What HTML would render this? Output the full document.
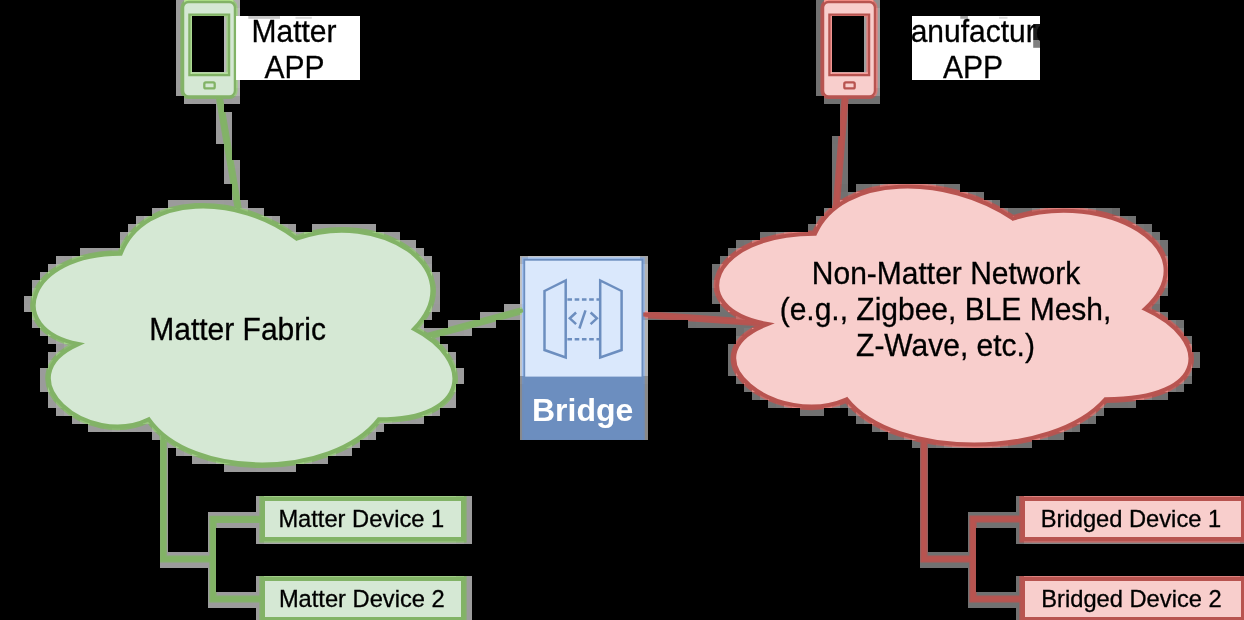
<!DOCTYPE html>
<html>
<head>
<meta charset="utf-8">
<title>Matter Bridge</title>
<style>
html,body{margin:0;padding:0;background:#000;}
body{width:1244px;height:620px;overflow:hidden;position:relative;font-family:"Liberation Sans",sans-serif;}
svg{position:absolute;left:0;top:0;display:block;will-change:transform;}
text{font-family:"Liberation Sans",sans-serif;fill:#000;stroke:#000;stroke-width:0.3px;}
</style>
</head>
<body>
<svg width="1244" height="620" viewBox="0 0 1244 620">
<rect x="0" y="0" width="1244" height="620" fill="#000"/>
<g id="art"><rect x="176" y="0" width="8" height="8" fill="#9c9c9c"/><rect x="184" y="0" width="8" height="8" fill="#c5c5c5"/><rect x="232" y="0" width="8" height="8" fill="#afafaf"/><rect x="816" y="0" width="8" height="8" fill="#717171"/><rect x="824" y="0" width="8" height="8" fill="#b0b0b0"/><rect x="872" y="0" width="8" height="8" fill="#8f8f8f"/><rect x="176" y="8" width="8" height="8" fill="#9c9c9c"/><rect x="184" y="8" width="8" height="8" fill="#d4d4d4"/><rect x="192" y="8" width="32" height="8" fill="#cccccc"/><rect x="224" y="8" width="8" height="8" fill="#d0d0d0"/><rect x="232" y="8" width="8" height="8" fill="#b9b9b9"/><rect x="816" y="8" width="8" height="8" fill="#717171"/><rect x="824" y="8" width="8" height="8" fill="#c8c8c8"/><rect x="832" y="8" width="32" height="8" fill="#bcbcbc"/><rect x="864" y="8" width="8" height="8" fill="#c2c2c2"/><rect x="872" y="8" width="8" height="8" fill="#9f9f9f"/><rect x="176" y="16" width="8" height="8" fill="#9c9c9c"/><rect x="184" y="16" width="8" height="8" fill="#c5c5c5"/><rect x="224" y="16" width="8" height="8" fill="#b9b9b9"/><rect x="816" y="16" width="8" height="8" fill="#717171"/><rect x="824" y="16" width="8" height="8" fill="#b1b1b1"/><rect x="864" y="16" width="16" height="8" fill="#9f9f9f"/><rect x="176" y="24" width="8" height="8" fill="#9c9c9c"/><rect x="184" y="24" width="8" height="8" fill="#c5c5c5"/><rect x="224" y="24" width="8" height="8" fill="#b9b9b9"/><rect x="816" y="24" width="8" height="8" fill="#717171"/><rect x="824" y="24" width="8" height="8" fill="#b1b1b1"/><rect x="864" y="24" width="16" height="8" fill="#9f9f9f"/><rect x="176" y="32" width="8" height="8" fill="#9c9c9c"/><rect x="184" y="32" width="8" height="8" fill="#c5c5c5"/><rect x="224" y="32" width="8" height="8" fill="#b9b9b9"/><rect x="816" y="32" width="8" height="8" fill="#717171"/><rect x="824" y="32" width="8" height="8" fill="#b1b1b1"/><rect x="864" y="32" width="16" height="8" fill="#9f9f9f"/><rect x="176" y="40" width="8" height="8" fill="#9c9c9c"/><rect x="184" y="40" width="8" height="8" fill="#c5c5c5"/><rect x="224" y="40" width="8" height="8" fill="#b9b9b9"/><rect x="816" y="40" width="8" height="8" fill="#717171"/><rect x="824" y="40" width="8" height="8" fill="#b1b1b1"/><rect x="864" y="40" width="16" height="8" fill="#9f9f9f"/><rect x="176" y="48" width="8" height="8" fill="#9c9c9c"/><rect x="184" y="48" width="8" height="8" fill="#c5c5c5"/><rect x="224" y="48" width="8" height="8" fill="#b9b9b9"/><rect x="816" y="48" width="8" height="8" fill="#717171"/><rect x="824" y="48" width="8" height="8" fill="#b1b1b1"/><rect x="864" y="48" width="16" height="8" fill="#9f9f9f"/><rect x="176" y="56" width="8" height="8" fill="#9c9c9c"/><rect x="184" y="56" width="8" height="8" fill="#c5c5c5"/><rect x="224" y="56" width="8" height="8" fill="#b9b9b9"/><rect x="816" y="56" width="8" height="8" fill="#717171"/><rect x="824" y="56" width="8" height="8" fill="#b1b1b1"/><rect x="864" y="56" width="16" height="8" fill="#9f9f9f"/><rect x="176" y="64" width="8" height="8" fill="#9c9c9c"/><rect x="184" y="64" width="8" height="8" fill="#c5c5c5"/><rect x="224" y="64" width="8" height="8" fill="#b9b9b9"/><rect x="816" y="64" width="8" height="8" fill="#717171"/><rect x="824" y="64" width="8" height="8" fill="#b1b1b1"/><rect x="864" y="64" width="16" height="8" fill="#9f9f9f"/><rect x="176" y="72" width="8" height="8" fill="#9c9c9c"/><rect x="184" y="72" width="8" height="8" fill="#cfcfcf"/><rect x="192" y="72" width="32" height="8" fill="#c6c6c6"/><rect x="224" y="72" width="8" height="8" fill="#c9c9c9"/><rect x="816" y="72" width="8" height="8" fill="#717171"/><rect x="824" y="72" width="8" height="8" fill="#c0c0c0"/><rect x="832" y="72" width="32" height="8" fill="#b3b3b3"/><rect x="864" y="72" width="8" height="8" fill="#b7b7b7"/><rect x="872" y="72" width="8" height="8" fill="#9f9f9f"/><rect x="176" y="80" width="8" height="8" fill="#9c9c9c"/><rect x="232" y="80" width="8" height="8" fill="#b9b9b9"/><rect x="816" y="80" width="8" height="8" fill="#717171"/><rect x="872" y="80" width="8" height="8" fill="#9f9f9f"/><rect x="176" y="88" width="8" height="8" fill="#9b9b9b"/><rect x="184" y="88" width="8" height="8" fill="#d3d3d3"/><rect x="232" y="88" width="8" height="8" fill="#b2b2b2"/><rect x="816" y="88" width="8" height="8" fill="#717171"/><rect x="824" y="88" width="8" height="8" fill="#c7c7c7"/><rect x="872" y="88" width="8" height="8" fill="#949494"/><rect x="184" y="96" width="8" height="8" fill="#9c9c9c"/><rect x="192" y="96" width="40" height="8" fill="#9b9b9b"/><rect x="232" y="96" width="8" height="8" fill="#9c9c9c"/><rect x="824" y="96" width="56" height="8" fill="#717171"/><rect x="216" y="104" width="8" height="8" fill="#9c9c9c"/><rect x="840" y="104" width="8" height="8" fill="#717171"/><rect x="216" y="112" width="8" height="8" fill="#9b9b9b"/><rect x="224" y="112" width="8" height="8" fill="#9c9c9c"/><rect x="840" y="112" width="8" height="8" fill="#717171"/><rect x="216" y="120" width="16" height="8" fill="#9b9b9b"/><rect x="840" y="120" width="8" height="8" fill="#717171"/><rect x="216" y="128" width="16" height="8" fill="#9b9b9b"/><rect x="840" y="128" width="8" height="8" fill="#717171"/><rect x="216" y="136" width="16" height="8" fill="#9b9b9b"/><rect x="832" y="136" width="8" height="8" fill="#707070"/><rect x="840" y="136" width="8" height="8" fill="#717171"/><rect x="224" y="144" width="8" height="8" fill="#9b9b9b"/><rect x="832" y="144" width="16" height="8" fill="#717171"/><rect x="224" y="152" width="8" height="8" fill="#9b9b9b"/><rect x="832" y="152" width="16" height="8" fill="#717171"/><rect x="224" y="160" width="16" height="8" fill="#9c9c9c"/><rect x="832" y="160" width="16" height="8" fill="#717171"/><rect x="224" y="168" width="16" height="8" fill="#9b9b9b"/><rect x="832" y="168" width="16" height="8" fill="#717171"/><rect x="224" y="176" width="16" height="8" fill="#9b9b9b"/><rect x="832" y="176" width="16" height="8" fill="#717171"/><rect x="232" y="184" width="8" height="8" fill="#9b9b9b"/><rect x="832" y="184" width="8" height="8" fill="#717171"/><rect x="840" y="184" width="8" height="8" fill="#6e6e6e"/><rect x="856" y="184" width="8" height="8" fill="#707070"/><rect x="864" y="184" width="8" height="8" fill="#717171"/><rect x="872" y="184" width="8" height="8" fill="#797979"/><rect x="880" y="184" width="8" height="8" fill="#929292"/><rect x="888" y="184" width="8" height="8" fill="#9b9b9b"/><rect x="896" y="184" width="8" height="8" fill="#a0a0a0"/><rect x="904" y="184" width="8" height="8" fill="#a2a2a2"/><rect x="912" y="184" width="8" height="8" fill="#a0a0a0"/><rect x="920" y="184" width="8" height="8" fill="#9a9a9a"/><rect x="928" y="184" width="8" height="8" fill="#919191"/><rect x="936" y="184" width="8" height="8" fill="#7c7c7c"/><rect x="944" y="184" width="16" height="8" fill="#717171"/><rect x="232" y="192" width="8" height="8" fill="#9b9b9b"/><rect x="832" y="192" width="16" height="8" fill="#717171"/><rect x="848" y="192" width="8" height="8" fill="#7b7b7b"/><rect x="856" y="192" width="8" height="8" fill="#a1a1a1"/><rect x="960" y="192" width="8" height="8" fill="#979797"/><rect x="968" y="192" width="8" height="8" fill="#787878"/><rect x="976" y="192" width="8" height="8" fill="#717171"/><rect x="168" y="200" width="16" height="8" fill="#9b9b9b"/><rect x="184" y="200" width="40" height="8" fill="#9c9c9c"/><rect x="224" y="200" width="24" height="8" fill="#9b9b9b"/><rect x="832" y="200" width="8" height="8" fill="#747474"/><rect x="840" y="200" width="8" height="8" fill="#a5a5a5"/><rect x="976" y="200" width="8" height="8" fill="#aeaeae"/><rect x="984" y="200" width="8" height="8" fill="#888888"/><rect x="992" y="200" width="8" height="8" fill="#717171"/><rect x="152" y="208" width="8" height="8" fill="#9b9b9b"/><rect x="160" y="208" width="8" height="8" fill="#a8a8a8"/><rect x="168" y="208" width="8" height="8" fill="#bbbbbb"/><rect x="232" y="208" width="8" height="8" fill="#b9b9b9"/><rect x="240" y="208" width="8" height="8" fill="#acacac"/><rect x="248" y="208" width="8" height="8" fill="#9c9c9c"/><rect x="256" y="208" width="8" height="8" fill="#9b9b9b"/><rect x="824" y="208" width="8" height="8" fill="#7d7d7d"/><rect x="992" y="208" width="8" height="8" fill="#b4b4b4"/><rect x="1000" y="208" width="8" height="8" fill="#848484"/><rect x="1008" y="208" width="24" height="8" fill="#717171"/><rect x="1032" y="208" width="8" height="8" fill="#838383"/><rect x="1040" y="208" width="8" height="8" fill="#949494"/><rect x="1048" y="208" width="8" height="8" fill="#9c9c9c"/><rect x="1056" y="208" width="16" height="8" fill="#9f9f9f"/><rect x="1072" y="208" width="8" height="8" fill="#9c9c9c"/><rect x="1080" y="208" width="8" height="8" fill="#939393"/><rect x="1088" y="208" width="8" height="8" fill="#828282"/><rect x="1096" y="208" width="16" height="8" fill="#717171"/><rect x="1112" y="208" width="8" height="8" fill="#6b6b6b"/><rect x="136" y="216" width="8" height="8" fill="#9b9b9b"/><rect x="144" y="216" width="8" height="8" fill="#aaaaaa"/><rect x="152" y="216" width="8" height="8" fill="#c8c8c8"/><rect x="256" y="216" width="8" height="8" fill="#bebebe"/><rect x="264" y="216" width="8" height="8" fill="#a5a5a5"/><rect x="272" y="216" width="8" height="8" fill="#9b9b9b"/><rect x="816" y="216" width="8" height="8" fill="#767676"/><rect x="1008" y="216" width="8" height="8" fill="#a9a9a9"/><rect x="1112" y="216" width="8" height="8" fill="#989898"/><rect x="1120" y="216" width="8" height="8" fill="#757575"/><rect x="1128" y="216" width="8" height="8" fill="#717171"/><rect x="128" y="224" width="8" height="8" fill="#9b9b9b"/><rect x="136" y="224" width="8" height="8" fill="#b7b7b7"/><rect x="272" y="224" width="8" height="8" fill="#c1c1c1"/><rect x="280" y="224" width="8" height="8" fill="#a2a2a2"/><rect x="288" y="224" width="8" height="8" fill="#9b9b9b"/><rect x="312" y="224" width="24" height="8" fill="#9b9b9b"/><rect x="336" y="224" width="16" height="8" fill="#9c9c9c"/><rect x="352" y="224" width="24" height="8" fill="#9b9b9b"/><rect x="808" y="224" width="8" height="8" fill="#717171"/><rect x="816" y="224" width="8" height="8" fill="#a5a5a5"/><rect x="1128" y="224" width="8" height="8" fill="#a0a0a0"/><rect x="1136" y="224" width="8" height="8" fill="#757575"/><rect x="1144" y="224" width="8" height="8" fill="#717171"/><rect x="120" y="232" width="8" height="8" fill="#9b9b9b"/><rect x="128" y="232" width="8" height="8" fill="#b6b6b6"/><rect x="288" y="232" width="8" height="8" fill="#b2b2b2"/><rect x="296" y="232" width="8" height="8" fill="#a2a2a2"/><rect x="304" y="232" width="8" height="8" fill="#b6b6b6"/><rect x="312" y="232" width="8" height="8" fill="#c2c2c2"/><rect x="368" y="232" width="8" height="8" fill="#bbbbbb"/><rect x="376" y="232" width="8" height="8" fill="#ababab"/><rect x="384" y="232" width="8" height="8" fill="#9c9c9c"/><rect x="392" y="232" width="8" height="8" fill="#9b9b9b"/><rect x="760" y="232" width="8" height="8" fill="#717171"/><rect x="768" y="232" width="8" height="8" fill="#727272"/><rect x="776" y="232" width="8" height="8" fill="#868686"/><rect x="784" y="232" width="8" height="8" fill="#989898"/><rect x="792" y="232" width="8" height="8" fill="#a1a1a1"/><rect x="800" y="232" width="8" height="8" fill="#a5a5a5"/><rect x="1144" y="232" width="8" height="8" fill="#838383"/><rect x="1152" y="232" width="8" height="8" fill="#717171"/><rect x="120" y="240" width="8" height="8" fill="#a6a6a6"/><rect x="392" y="240" width="8" height="8" fill="#b6b6b6"/><rect x="400" y="240" width="16" height="8" fill="#9c9c9c"/><rect x="736" y="240" width="8" height="8" fill="#717171"/><rect x="744" y="240" width="8" height="8" fill="#737373"/><rect x="752" y="240" width="8" height="8" fill="#949494"/><rect x="760" y="240" width="8" height="8" fill="#b3b3b3"/><rect x="1152" y="240" width="8" height="8" fill="#838383"/><rect x="1160" y="240" width="8" height="8" fill="#727272"/><rect x="80" y="248" width="8" height="8" fill="#9c9c9c"/><rect x="88" y="248" width="24" height="8" fill="#9b9b9b"/><rect x="112" y="248" width="8" height="8" fill="#9d9d9d"/><rect x="120" y="248" width="8" height="8" fill="#c2c2c2"/><rect x="408" y="248" width="8" height="8" fill="#a9a9a9"/><rect x="416" y="248" width="8" height="8" fill="#9b9b9b"/><rect x="728" y="248" width="8" height="8" fill="#717171"/><rect x="736" y="248" width="8" height="8" fill="#919191"/><rect x="1160" y="248" width="8" height="8" fill="#727272"/><rect x="56" y="256" width="8" height="8" fill="#9c9c9c"/><rect x="64" y="256" width="8" height="8" fill="#9b9b9b"/><rect x="72" y="256" width="8" height="8" fill="#ababab"/><rect x="80" y="256" width="8" height="8" fill="#bdbdbd"/><rect x="416" y="256" width="8" height="8" fill="#ababab"/><rect x="424" y="256" width="8" height="8" fill="#9b9b9b"/><rect x="520" y="256" width="8" height="8" fill="#adadad"/><rect x="528" y="256" width="112" height="8" fill="#c4c4c4"/><rect x="640" y="256" width="8" height="8" fill="#a4a4a4"/><rect x="720" y="256" width="8" height="8" fill="#717171"/><rect x="728" y="256" width="8" height="8" fill="#a2a2a2"/><rect x="1160" y="256" width="8" height="8" fill="#919191"/><rect x="48" y="264" width="8" height="8" fill="#9c9c9c"/><rect x="56" y="264" width="8" height="8" fill="#afafaf"/><rect x="424" y="264" width="8" height="8" fill="#a1a1a1"/><rect x="520" y="264" width="8" height="8" fill="#c2c2c2"/><rect x="640" y="264" width="8" height="8" fill="#b3b3b3"/><rect x="712" y="264" width="8" height="8" fill="#717171"/><rect x="720" y="264" width="8" height="8" fill="#989898"/><rect x="1160" y="264" width="8" height="8" fill="#a1a1a1"/><rect x="40" y="272" width="8" height="8" fill="#9c9c9c"/><rect x="48" y="272" width="8" height="8" fill="#c1c1c1"/><rect x="424" y="272" width="8" height="8" fill="#bbbbbb"/><rect x="432" y="272" width="8" height="8" fill="#9b9b9b"/><rect x="520" y="272" width="8" height="8" fill="#c2c2c2"/><rect x="640" y="272" width="8" height="8" fill="#b3b3b3"/><rect x="712" y="272" width="8" height="8" fill="#727272"/><rect x="1160" y="272" width="8" height="8" fill="#9f9f9f"/><rect x="32" y="280" width="8" height="8" fill="#9b9b9b"/><rect x="40" y="280" width="8" height="8" fill="#c0c0c0"/><rect x="432" y="280" width="8" height="8" fill="#9b9b9b"/><rect x="520" y="280" width="8" height="8" fill="#c2c2c2"/><rect x="640" y="280" width="8" height="8" fill="#b3b3b3"/><rect x="712" y="280" width="8" height="8" fill="#7f7f7f"/><rect x="1160" y="280" width="8" height="8" fill="#868686"/><rect x="32" y="288" width="8" height="8" fill="#aaaaaa"/><rect x="432" y="288" width="8" height="8" fill="#9c9c9c"/><rect x="520" y="288" width="8" height="8" fill="#c2c2c2"/><rect x="640" y="288" width="8" height="8" fill="#b3b3b3"/><rect x="712" y="288" width="8" height="8" fill="#757575"/><rect x="1152" y="288" width="8" height="8" fill="#b2b2b2"/><rect x="1160" y="288" width="8" height="8" fill="#717171"/><rect x="24" y="296" width="8" height="8" fill="#9a9a9a"/><rect x="32" y="296" width="8" height="8" fill="#bcbcbc"/><rect x="432" y="296" width="8" height="8" fill="#9b9b9b"/><rect x="520" y="296" width="8" height="8" fill="#c2c2c2"/><rect x="640" y="296" width="8" height="8" fill="#b3b3b3"/><rect x="712" y="296" width="8" height="8" fill="#717171"/><rect x="720" y="296" width="8" height="8" fill="#a3a3a3"/><rect x="1152" y="296" width="8" height="8" fill="#7b7b7b"/><rect x="24" y="304" width="8" height="8" fill="#9b9b9b"/><rect x="32" y="304" width="8" height="8" fill="#bebebe"/><rect x="424" y="304" width="8" height="8" fill="#b4b4b4"/><rect x="432" y="304" width="8" height="8" fill="#999999"/><rect x="504" y="304" width="16" height="8" fill="#9b9b9b"/><rect x="520" y="304" width="8" height="8" fill="#bababa"/><rect x="640" y="304" width="8" height="8" fill="#b3b3b3"/><rect x="720" y="304" width="8" height="8" fill="#727272"/><rect x="728" y="304" width="8" height="8" fill="#a7a7a7"/><rect x="1144" y="304" width="8" height="8" fill="#7f7f7f"/><rect x="1152" y="304" width="8" height="8" fill="#717171"/><rect x="32" y="312" width="8" height="8" fill="#b0b0b0"/><rect x="424" y="312" width="8" height="8" fill="#9c9c9c"/><rect x="480" y="312" width="40" height="8" fill="#9b9b9b"/><rect x="520" y="312" width="8" height="8" fill="#bfbfbf"/><rect x="640" y="312" width="8" height="8" fill="#989898"/><rect x="648" y="312" width="88" height="8" fill="#717171"/><rect x="736" y="312" width="8" height="8" fill="#868686"/><rect x="744" y="312" width="8" height="8" fill="#afafaf"/><rect x="1152" y="312" width="8" height="8" fill="#9d9d9d"/><rect x="1160" y="312" width="8" height="8" fill="#727272"/><rect x="32" y="320" width="8" height="8" fill="#9b9b9b"/><rect x="40" y="320" width="8" height="8" fill="#c6c6c6"/><rect x="416" y="320" width="8" height="8" fill="#a6a6a6"/><rect x="448" y="320" width="48" height="8" fill="#9b9b9b"/><rect x="520" y="320" width="8" height="8" fill="#c2c2c2"/><rect x="640" y="320" width="8" height="8" fill="#b3b3b3"/><rect x="688" y="320" width="8" height="8" fill="#707070"/><rect x="696" y="320" width="56" height="8" fill="#717171"/><rect x="752" y="320" width="8" height="8" fill="#727272"/><rect x="760" y="320" width="8" height="8" fill="#898989"/><rect x="1168" y="320" width="8" height="8" fill="#7f7f7f"/><rect x="1176" y="320" width="8" height="8" fill="#717171"/><rect x="40" y="328" width="8" height="8" fill="#9d9d9d"/><rect x="48" y="328" width="8" height="8" fill="#bebebe"/><rect x="416" y="328" width="8" height="8" fill="#acacac"/><rect x="424" y="328" width="40" height="8" fill="#9b9b9b"/><rect x="464" y="328" width="8" height="8" fill="#9d9d9d"/><rect x="520" y="328" width="8" height="8" fill="#c2c2c2"/><rect x="640" y="328" width="8" height="8" fill="#b3b3b3"/><rect x="736" y="328" width="8" height="8" fill="#717171"/><rect x="744" y="328" width="8" height="8" fill="#797979"/><rect x="752" y="328" width="8" height="8" fill="#aaaaaa"/><rect x="1176" y="328" width="8" height="8" fill="#808080"/><rect x="48" y="336" width="8" height="8" fill="#9c9c9c"/><rect x="56" y="336" width="8" height="8" fill="#a5a5a5"/><rect x="64" y="336" width="8" height="8" fill="#bbbbbb"/><rect x="424" y="336" width="8" height="8" fill="#bdbdbd"/><rect x="432" y="336" width="8" height="8" fill="#9d9d9d"/><rect x="520" y="336" width="8" height="8" fill="#c2c2c2"/><rect x="640" y="336" width="8" height="8" fill="#b3b3b3"/><rect x="736" y="336" width="8" height="8" fill="#7f7f7f"/><rect x="1184" y="336" width="8" height="8" fill="#727272"/><rect x="56" y="344" width="8" height="8" fill="#9b9b9b"/><rect x="64" y="344" width="8" height="8" fill="#a4a4a4"/><rect x="72" y="344" width="8" height="8" fill="#c2c2c2"/><rect x="432" y="344" width="8" height="8" fill="#c8c8c8"/><rect x="440" y="344" width="8" height="8" fill="#9d9d9d"/><rect x="520" y="344" width="8" height="8" fill="#c2c2c2"/><rect x="640" y="344" width="8" height="8" fill="#b3b3b3"/><rect x="728" y="344" width="8" height="8" fill="#717171"/><rect x="736" y="344" width="8" height="8" fill="#b5b5b5"/><rect x="1184" y="344" width="8" height="8" fill="#949494"/><rect x="48" y="352" width="8" height="8" fill="#9b9b9b"/><rect x="56" y="352" width="8" height="8" fill="#b0b0b0"/><rect x="440" y="352" width="8" height="8" fill="#bfbfbf"/><rect x="448" y="352" width="8" height="8" fill="#9b9b9b"/><rect x="520" y="352" width="8" height="8" fill="#c2c2c2"/><rect x="640" y="352" width="8" height="8" fill="#b3b3b3"/><rect x="728" y="352" width="8" height="8" fill="#717171"/><rect x="1184" y="352" width="8" height="8" fill="#a8a8a8"/><rect x="1192" y="352" width="8" height="8" fill="#717171"/><rect x="48" y="360" width="8" height="8" fill="#a8a8a8"/><rect x="448" y="360" width="8" height="8" fill="#a8a8a8"/><rect x="520" y="360" width="8" height="8" fill="#c2c2c2"/><rect x="640" y="360" width="8" height="8" fill="#b3b3b3"/><rect x="728" y="360" width="8" height="8" fill="#717171"/><rect x="1184" y="360" width="8" height="8" fill="#a4a4a4"/><rect x="1192" y="360" width="8" height="8" fill="#707070"/><rect x="40" y="368" width="8" height="8" fill="#9b9b9b"/><rect x="48" y="368" width="8" height="8" fill="#c0c0c0"/><rect x="448" y="368" width="8" height="8" fill="#bbbbbb"/><rect x="456" y="368" width="8" height="8" fill="#9c9c9c"/><rect x="520" y="368" width="8" height="8" fill="#c2c2c2"/><rect x="640" y="368" width="8" height="8" fill="#b3b3b3"/><rect x="728" y="368" width="8" height="8" fill="#717171"/><rect x="736" y="368" width="8" height="8" fill="#9f9f9f"/><rect x="1184" y="368" width="8" height="8" fill="#838383"/><rect x="40" y="376" width="8" height="8" fill="#9b9b9b"/><rect x="448" y="376" width="8" height="8" fill="#c0c0c0"/><rect x="456" y="376" width="8" height="8" fill="#9c9c9c"/><rect x="520" y="376" width="8" height="8" fill="#8e8e8e"/><rect x="640" y="376" width="8" height="8" fill="#8d8d8d"/><rect x="736" y="376" width="8" height="8" fill="#727272"/><rect x="744" y="376" width="8" height="8" fill="#b1b1b1"/><rect x="1176" y="376" width="8" height="8" fill="#909090"/><rect x="1184" y="376" width="8" height="8" fill="#717171"/><rect x="40" y="384" width="8" height="8" fill="#9b9b9b"/><rect x="48" y="384" width="8" height="8" fill="#b9b9b9"/><rect x="448" y="384" width="8" height="8" fill="#b6b6b6"/><rect x="520" y="384" width="8" height="8" fill="#898989"/><rect x="640" y="384" width="8" height="8" fill="#898989"/><rect x="744" y="384" width="8" height="8" fill="#727272"/><rect x="752" y="384" width="8" height="8" fill="#a3a3a3"/><rect x="1160" y="384" width="8" height="8" fill="#a4a4a4"/><rect x="1168" y="384" width="8" height="8" fill="#7c7c7c"/><rect x="1176" y="384" width="8" height="8" fill="#717171"/><rect x="48" y="392" width="8" height="8" fill="#9f9f9f"/><rect x="448" y="392" width="8" height="8" fill="#9e9e9e"/><rect x="520" y="392" width="8" height="8" fill="#898989"/><rect x="640" y="392" width="8" height="8" fill="#898989"/><rect x="752" y="392" width="8" height="8" fill="#717171"/><rect x="760" y="392" width="8" height="8" fill="#858585"/><rect x="768" y="392" width="8" height="8" fill="#aeaeae"/><rect x="1128" y="392" width="8" height="8" fill="#a2a2a2"/><rect x="1136" y="392" width="8" height="8" fill="#999999"/><rect x="1144" y="392" width="8" height="8" fill="#858585"/><rect x="1152" y="392" width="16" height="8" fill="#717171"/><rect x="48" y="400" width="8" height="8" fill="#9b9b9b"/><rect x="56" y="400" width="8" height="8" fill="#a8a8a8"/><rect x="432" y="400" width="8" height="8" fill="#c6c6c6"/><rect x="440" y="400" width="16" height="8" fill="#a2a2a2"/><rect x="520" y="400" width="8" height="8" fill="#898989"/><rect x="640" y="400" width="8" height="8" fill="#898989"/><rect x="768" y="400" width="8" height="8" fill="#717171"/><rect x="776" y="400" width="8" height="8" fill="#757575"/><rect x="784" y="400" width="8" height="8" fill="#919191"/><rect x="792" y="400" width="8" height="8" fill="#a2a2a2"/><rect x="800" y="400" width="8" height="8" fill="#a9a9a9"/><rect x="816" y="400" width="8" height="8" fill="#a8a8a8"/><rect x="824" y="400" width="8" height="8" fill="#9d9d9d"/><rect x="832" y="400" width="8" height="8" fill="#878787"/><rect x="840" y="400" width="8" height="8" fill="#717171"/><rect x="848" y="400" width="8" height="8" fill="#969696"/><rect x="1096" y="400" width="8" height="8" fill="#949494"/><rect x="1104" y="400" width="24" height="8" fill="#717171"/><rect x="1128" y="400" width="8" height="8" fill="#727272"/><rect x="56" y="408" width="8" height="8" fill="#9c9c9c"/><rect x="64" y="408" width="8" height="8" fill="#a4a4a4"/><rect x="72" y="408" width="8" height="8" fill="#c7c7c7"/><rect x="416" y="408" width="8" height="8" fill="#c0c0c0"/><rect x="424" y="408" width="8" height="8" fill="#ababab"/><rect x="432" y="408" width="8" height="8" fill="#9b9b9b"/><rect x="520" y="408" width="8" height="8" fill="#898989"/><rect x="640" y="408" width="8" height="8" fill="#898989"/><rect x="800" y="408" width="24" height="8" fill="#717171"/><rect x="848" y="408" width="8" height="8" fill="#717171"/><rect x="856" y="408" width="8" height="8" fill="#919191"/><rect x="1088" y="408" width="8" height="8" fill="#8b8b8b"/><rect x="1096" y="408" width="8" height="8" fill="#717171"/><rect x="72" y="416" width="8" height="8" fill="#9b9b9b"/><rect x="80" y="416" width="8" height="8" fill="#ababab"/><rect x="88" y="416" width="8" height="8" fill="#c1c1c1"/><rect x="136" y="416" width="8" height="8" fill="#c4c4c4"/><rect x="144" y="416" width="8" height="8" fill="#b1b1b1"/><rect x="376" y="416" width="8" height="8" fill="#acacac"/><rect x="384" y="416" width="8" height="8" fill="#ababab"/><rect x="392" y="416" width="8" height="8" fill="#a4a4a4"/><rect x="400" y="416" width="8" height="8" fill="#9c9c9c"/><rect x="408" y="416" width="8" height="8" fill="#9b9b9b"/><rect x="416" y="416" width="8" height="8" fill="#9c9c9c"/><rect x="520" y="416" width="8" height="8" fill="#898989"/><rect x="640" y="416" width="8" height="8" fill="#898989"/><rect x="856" y="416" width="8" height="8" fill="#717171"/><rect x="864" y="416" width="8" height="8" fill="#7e7e7e"/><rect x="872" y="416" width="8" height="8" fill="#afafaf"/><rect x="1072" y="416" width="8" height="8" fill="#a4a4a4"/><rect x="1080" y="416" width="8" height="8" fill="#777777"/><rect x="1088" y="416" width="8" height="8" fill="#717171"/><rect x="88" y="424" width="16" height="8" fill="#9b9b9b"/><rect x="104" y="424" width="8" height="8" fill="#9d9d9d"/><rect x="112" y="424" width="8" height="8" fill="#a2a2a2"/><rect x="120" y="424" width="8" height="8" fill="#9d9d9d"/><rect x="128" y="424" width="8" height="8" fill="#9c9c9c"/><rect x="136" y="424" width="16" height="8" fill="#9b9b9b"/><rect x="152" y="424" width="8" height="8" fill="#aeaeae"/><rect x="368" y="424" width="8" height="8" fill="#a8a8a8"/><rect x="376" y="424" width="8" height="8" fill="#9b9b9b"/><rect x="520" y="424" width="8" height="8" fill="#898989"/><rect x="640" y="424" width="8" height="8" fill="#898989"/><rect x="872" y="424" width="8" height="8" fill="#717171"/><rect x="880" y="424" width="8" height="8" fill="#848484"/><rect x="888" y="424" width="8" height="8" fill="#a9a9a9"/><rect x="1056" y="424" width="8" height="8" fill="#9f9f9f"/><rect x="1064" y="424" width="8" height="8" fill="#7a7a7a"/><rect x="1072" y="424" width="8" height="8" fill="#717171"/><rect x="152" y="432" width="8" height="8" fill="#9b9b9b"/><rect x="160" y="432" width="8" height="8" fill="#a8a8a8"/><rect x="352" y="432" width="8" height="8" fill="#c9c9c9"/><rect x="360" y="432" width="8" height="8" fill="#a4a4a4"/><rect x="368" y="432" width="8" height="8" fill="#9b9b9b"/><rect x="520" y="432" width="128" height="8" fill="#898989"/><rect x="888" y="432" width="8" height="8" fill="#717171"/><rect x="896" y="432" width="8" height="8" fill="#727272"/><rect x="904" y="432" width="8" height="8" fill="#8d8d8d"/><rect x="912" y="432" width="8" height="8" fill="#a4a4a4"/><rect x="1032" y="432" width="8" height="8" fill="#9d9d9d"/><rect x="1040" y="432" width="8" height="8" fill="#808080"/><rect x="1048" y="432" width="16" height="8" fill="#717171"/><rect x="160" y="440" width="8" height="8" fill="#9c9c9c"/><rect x="168" y="440" width="8" height="8" fill="#a0a0a0"/><rect x="176" y="440" width="8" height="8" fill="#bdbdbd"/><rect x="344" y="440" width="8" height="8" fill="#b2b2b2"/><rect x="352" y="440" width="8" height="8" fill="#9b9b9b"/><rect x="912" y="440" width="8" height="8" fill="#707070"/><rect x="920" y="440" width="16" height="8" fill="#717171"/><rect x="936" y="440" width="8" height="8" fill="#787878"/><rect x="944" y="440" width="8" height="8" fill="#888888"/><rect x="952" y="440" width="8" height="8" fill="#939393"/><rect x="960" y="440" width="8" height="8" fill="#979797"/><rect x="968" y="440" width="8" height="8" fill="#999999"/><rect x="976" y="440" width="8" height="8" fill="#989898"/><rect x="984" y="440" width="8" height="8" fill="#959595"/><rect x="992" y="440" width="8" height="8" fill="#8d8d8d"/><rect x="1000" y="440" width="8" height="8" fill="#7f7f7f"/><rect x="1008" y="440" width="8" height="8" fill="#727272"/><rect x="1016" y="440" width="16" height="8" fill="#717171"/><rect x="160" y="448" width="8" height="8" fill="#9c9c9c"/><rect x="176" y="448" width="8" height="8" fill="#9b9b9b"/><rect x="184" y="448" width="8" height="8" fill="#a1a1a1"/><rect x="192" y="448" width="8" height="8" fill="#b8b8b8"/><rect x="320" y="448" width="8" height="8" fill="#c3c3c3"/><rect x="328" y="448" width="8" height="8" fill="#afafaf"/><rect x="336" y="448" width="8" height="8" fill="#9c9c9c"/><rect x="344" y="448" width="8" height="8" fill="#9b9b9b"/><rect x="920" y="448" width="8" height="8" fill="#717171"/><rect x="160" y="456" width="8" height="8" fill="#9c9c9c"/><rect x="192" y="456" width="8" height="8" fill="#9c9c9c"/><rect x="200" y="456" width="8" height="8" fill="#9b9b9b"/><rect x="208" y="456" width="8" height="8" fill="#a1a1a1"/><rect x="216" y="456" width="8" height="8" fill="#b2b2b2"/><rect x="224" y="456" width="8" height="8" fill="#bbbbbb"/><rect x="288" y="456" width="8" height="8" fill="#c0c0c0"/><rect x="296" y="456" width="8" height="8" fill="#b8b8b8"/><rect x="304" y="456" width="8" height="8" fill="#aaaaaa"/><rect x="312" y="456" width="8" height="8" fill="#9c9c9c"/><rect x="320" y="456" width="8" height="8" fill="#9b9b9b"/><rect x="920" y="456" width="8" height="8" fill="#717171"/><rect x="160" y="464" width="8" height="8" fill="#9c9c9c"/><rect x="224" y="464" width="32" height="8" fill="#9b9b9b"/><rect x="256" y="464" width="24" height="8" fill="#9c9c9c"/><rect x="280" y="464" width="16" height="8" fill="#9b9b9b"/><rect x="920" y="464" width="8" height="8" fill="#717171"/><rect x="160" y="472" width="8" height="8" fill="#9c9c9c"/><rect x="920" y="472" width="8" height="8" fill="#717171"/><rect x="160" y="480" width="8" height="8" fill="#9c9c9c"/><rect x="920" y="480" width="8" height="8" fill="#717171"/><rect x="160" y="488" width="8" height="8" fill="#9c9c9c"/><rect x="920" y="488" width="8" height="8" fill="#717171"/><rect x="160" y="496" width="8" height="8" fill="#9c9c9c"/><rect x="256" y="496" width="8" height="8" fill="#9c9c9c"/><rect x="264" y="496" width="8" height="8" fill="#b5b5b5"/><rect x="272" y="496" width="184" height="8" fill="#b9b9b9"/><rect x="456" y="496" width="8" height="8" fill="#aeaeae"/><rect x="464" y="496" width="8" height="8" fill="#9c9c9c"/><rect x="920" y="496" width="8" height="8" fill="#717171"/><rect x="1016" y="496" width="8" height="8" fill="#717171"/><rect x="1024" y="496" width="8" height="8" fill="#999999"/><rect x="1032" y="496" width="208" height="8" fill="#9e9e9e"/><rect x="1240" y="496" width="4" height="8" fill="#7d7d7d"/><rect x="160" y="504" width="8" height="8" fill="#9c9c9c"/><rect x="256" y="504" width="8" height="8" fill="#9c9c9c"/><rect x="464" y="504" width="8" height="8" fill="#9c9c9c"/><rect x="920" y="504" width="8" height="8" fill="#717171"/><rect x="1016" y="504" width="8" height="8" fill="#717171"/><rect x="160" y="512" width="8" height="8" fill="#9c9c9c"/><rect x="208" y="512" width="48" height="8" fill="#9b9b9b"/><rect x="256" y="512" width="8" height="8" fill="#9c9c9c"/><rect x="464" y="512" width="8" height="8" fill="#9c9c9c"/><rect x="920" y="512" width="8" height="8" fill="#717171"/><rect x="968" y="512" width="56" height="8" fill="#717171"/><rect x="160" y="520" width="8" height="8" fill="#9c9c9c"/><rect x="208" y="520" width="56" height="8" fill="#9c9c9c"/><rect x="464" y="520" width="8" height="8" fill="#9c9c9c"/><rect x="920" y="520" width="8" height="8" fill="#717171"/><rect x="968" y="520" width="56" height="8" fill="#717171"/><rect x="160" y="528" width="8" height="8" fill="#9c9c9c"/><rect x="208" y="528" width="8" height="8" fill="#9c9c9c"/><rect x="256" y="528" width="8" height="8" fill="#9c9c9c"/><rect x="464" y="528" width="8" height="8" fill="#9c9c9c"/><rect x="920" y="528" width="8" height="8" fill="#717171"/><rect x="968" y="528" width="8" height="8" fill="#717171"/><rect x="1016" y="528" width="8" height="8" fill="#717171"/><rect x="160" y="536" width="8" height="8" fill="#9c9c9c"/><rect x="208" y="536" width="8" height="8" fill="#9c9c9c"/><rect x="256" y="536" width="8" height="8" fill="#9c9c9c"/><rect x="264" y="536" width="8" height="8" fill="#a8a8a8"/><rect x="272" y="536" width="184" height="8" fill="#a9a9a9"/><rect x="456" y="536" width="8" height="8" fill="#a4a4a4"/><rect x="464" y="536" width="8" height="8" fill="#9c9c9c"/><rect x="920" y="536" width="8" height="8" fill="#717171"/><rect x="968" y="536" width="8" height="8" fill="#717171"/><rect x="1016" y="536" width="8" height="8" fill="#717171"/><rect x="1024" y="536" width="8" height="8" fill="#848484"/><rect x="1032" y="536" width="208" height="8" fill="#868686"/><rect x="1240" y="536" width="4" height="8" fill="#777777"/><rect x="160" y="544" width="8" height="8" fill="#9c9c9c"/><rect x="208" y="544" width="8" height="8" fill="#9c9c9c"/><rect x="920" y="544" width="8" height="8" fill="#717171"/><rect x="968" y="544" width="8" height="8" fill="#717171"/><rect x="160" y="552" width="56" height="8" fill="#9c9c9c"/><rect x="920" y="552" width="56" height="8" fill="#717171"/><rect x="160" y="560" width="56" height="8" fill="#9c9c9c"/><rect x="920" y="560" width="56" height="8" fill="#717171"/><rect x="208" y="568" width="8" height="8" fill="#9c9c9c"/><rect x="968" y="568" width="8" height="8" fill="#717171"/><rect x="208" y="576" width="8" height="8" fill="#9c9c9c"/><rect x="256" y="576" width="8" height="8" fill="#9c9c9c"/><rect x="264" y="576" width="8" height="8" fill="#b5b5b5"/><rect x="272" y="576" width="184" height="8" fill="#b9b9b9"/><rect x="456" y="576" width="8" height="8" fill="#aeaeae"/><rect x="464" y="576" width="8" height="8" fill="#9c9c9c"/><rect x="968" y="576" width="8" height="8" fill="#717171"/><rect x="1016" y="576" width="8" height="8" fill="#717171"/><rect x="1024" y="576" width="8" height="8" fill="#999999"/><rect x="1032" y="576" width="208" height="8" fill="#9e9e9e"/><rect x="1240" y="576" width="4" height="8" fill="#7d7d7d"/><rect x="208" y="584" width="8" height="8" fill="#9c9c9c"/><rect x="256" y="584" width="8" height="8" fill="#9c9c9c"/><rect x="464" y="584" width="8" height="8" fill="#9c9c9c"/><rect x="968" y="584" width="8" height="8" fill="#717171"/><rect x="1016" y="584" width="8" height="8" fill="#717171"/><rect x="208" y="592" width="56" height="8" fill="#9c9c9c"/><rect x="464" y="592" width="8" height="8" fill="#9c9c9c"/><rect x="968" y="592" width="56" height="8" fill="#717171"/><rect x="208" y="600" width="56" height="8" fill="#9c9c9c"/><rect x="464" y="600" width="8" height="8" fill="#9c9c9c"/><rect x="968" y="600" width="56" height="8" fill="#717171"/><rect x="256" y="608" width="8" height="8" fill="#9c9c9c"/><rect x="464" y="608" width="8" height="8" fill="#9c9c9c"/><rect x="1016" y="608" width="8" height="8" fill="#717171"/><rect x="256" y="616" width="8" height="4" fill="#9c9c9c"/><rect x="464" y="616" width="8" height="4" fill="#9c9c9c"/><rect x="1016" y="616" width="8" height="4" fill="#717171"/></g>
<defs><path id="artp" d="M176 0h8v8h-8zM184 0h8v8h-8zM232 0h8v8h-8zM816 0h8v8h-8zM824 0h8v8h-8zM872 0h8v8h-8zM176 8h8v8h-8zM184 8h8v8h-8zM192 8h32v8h-32zM224 8h8v8h-8zM232 8h8v8h-8zM816 8h8v8h-8zM824 8h8v8h-8zM832 8h32v8h-32zM864 8h8v8h-8zM872 8h8v8h-8zM176 16h8v8h-8zM184 16h8v8h-8zM224 16h8v8h-8zM816 16h8v8h-8zM824 16h8v8h-8zM864 16h16v8h-16zM176 24h8v8h-8zM184 24h8v8h-8zM224 24h8v8h-8zM816 24h8v8h-8zM824 24h8v8h-8zM864 24h16v8h-16zM176 32h8v8h-8zM184 32h8v8h-8zM224 32h8v8h-8zM816 32h8v8h-8zM824 32h8v8h-8zM864 32h16v8h-16zM176 40h8v8h-8zM184 40h8v8h-8zM224 40h8v8h-8zM816 40h8v8h-8zM824 40h8v8h-8zM864 40h16v8h-16zM176 48h8v8h-8zM184 48h8v8h-8zM224 48h8v8h-8zM816 48h8v8h-8zM824 48h8v8h-8zM864 48h16v8h-16zM176 56h8v8h-8zM184 56h8v8h-8zM224 56h8v8h-8zM816 56h8v8h-8zM824 56h8v8h-8zM864 56h16v8h-16zM176 64h8v8h-8zM184 64h8v8h-8zM224 64h8v8h-8zM816 64h8v8h-8zM824 64h8v8h-8zM864 64h16v8h-16zM176 72h8v8h-8zM184 72h8v8h-8zM192 72h32v8h-32zM224 72h8v8h-8zM816 72h8v8h-8zM824 72h8v8h-8zM832 72h32v8h-32zM864 72h8v8h-8zM872 72h8v8h-8zM176 80h8v8h-8zM232 80h8v8h-8zM816 80h8v8h-8zM872 80h8v8h-8zM176 88h8v8h-8zM184 88h8v8h-8zM232 88h8v8h-8zM816 88h8v8h-8zM824 88h8v8h-8zM872 88h8v8h-8zM184 96h8v8h-8zM192 96h40v8h-40zM232 96h8v8h-8zM824 96h56v8h-56zM216 104h8v8h-8zM840 104h8v8h-8zM216 112h8v8h-8zM224 112h8v8h-8zM840 112h8v8h-8zM216 120h16v8h-16zM840 120h8v8h-8zM216 128h16v8h-16zM840 128h8v8h-8zM216 136h16v8h-16zM832 136h8v8h-8zM840 136h8v8h-8zM224 144h8v8h-8zM832 144h16v8h-16zM224 152h8v8h-8zM832 152h16v8h-16zM224 160h16v8h-16zM832 160h16v8h-16zM224 168h16v8h-16zM832 168h16v8h-16zM224 176h16v8h-16zM832 176h16v8h-16zM232 184h8v8h-8zM832 184h8v8h-8zM840 184h8v8h-8zM856 184h8v8h-8zM864 184h8v8h-8zM872 184h8v8h-8zM880 184h8v8h-8zM888 184h8v8h-8zM896 184h8v8h-8zM904 184h8v8h-8zM912 184h8v8h-8zM920 184h8v8h-8zM928 184h8v8h-8zM936 184h8v8h-8zM944 184h16v8h-16zM232 192h8v8h-8zM832 192h16v8h-16zM848 192h8v8h-8zM856 192h8v8h-8zM960 192h8v8h-8zM968 192h8v8h-8zM976 192h8v8h-8zM168 200h16v8h-16zM184 200h40v8h-40zM224 200h24v8h-24zM832 200h8v8h-8zM840 200h8v8h-8zM976 200h8v8h-8zM984 200h8v8h-8zM992 200h8v8h-8zM152 208h8v8h-8zM160 208h8v8h-8zM168 208h8v8h-8zM232 208h8v8h-8zM240 208h8v8h-8zM248 208h8v8h-8zM256 208h8v8h-8zM824 208h8v8h-8zM992 208h8v8h-8zM1000 208h8v8h-8zM1008 208h24v8h-24zM1032 208h8v8h-8zM1040 208h8v8h-8zM1048 208h8v8h-8zM1056 208h16v8h-16zM1072 208h8v8h-8zM1080 208h8v8h-8zM1088 208h8v8h-8zM1096 208h16v8h-16zM1112 208h8v8h-8zM136 216h8v8h-8zM144 216h8v8h-8zM152 216h8v8h-8zM256 216h8v8h-8zM264 216h8v8h-8zM272 216h8v8h-8zM816 216h8v8h-8zM1008 216h8v8h-8zM1112 216h8v8h-8zM1120 216h8v8h-8zM1128 216h8v8h-8zM128 224h8v8h-8zM136 224h8v8h-8zM272 224h8v8h-8zM280 224h8v8h-8zM288 224h8v8h-8zM312 224h24v8h-24zM336 224h16v8h-16zM352 224h24v8h-24zM808 224h8v8h-8zM816 224h8v8h-8zM1128 224h8v8h-8zM1136 224h8v8h-8zM1144 224h8v8h-8zM120 232h8v8h-8zM128 232h8v8h-8zM288 232h8v8h-8zM296 232h8v8h-8zM304 232h8v8h-8zM312 232h8v8h-8zM368 232h8v8h-8zM376 232h8v8h-8zM384 232h8v8h-8zM392 232h8v8h-8zM760 232h8v8h-8zM768 232h8v8h-8zM776 232h8v8h-8zM784 232h8v8h-8zM792 232h8v8h-8zM800 232h8v8h-8zM1144 232h8v8h-8zM1152 232h8v8h-8zM120 240h8v8h-8zM392 240h8v8h-8zM400 240h16v8h-16zM736 240h8v8h-8zM744 240h8v8h-8zM752 240h8v8h-8zM760 240h8v8h-8zM1152 240h8v8h-8zM1160 240h8v8h-8zM80 248h8v8h-8zM88 248h24v8h-24zM112 248h8v8h-8zM120 248h8v8h-8zM408 248h8v8h-8zM416 248h8v8h-8zM728 248h8v8h-8zM736 248h8v8h-8zM1160 248h8v8h-8zM56 256h8v8h-8zM64 256h8v8h-8zM72 256h8v8h-8zM80 256h8v8h-8zM416 256h8v8h-8zM424 256h8v8h-8zM520 256h8v8h-8zM528 256h112v8h-112zM640 256h8v8h-8zM720 256h8v8h-8zM728 256h8v8h-8zM1160 256h8v8h-8zM48 264h8v8h-8zM56 264h8v8h-8zM424 264h8v8h-8zM520 264h8v8h-8zM640 264h8v8h-8zM712 264h8v8h-8zM720 264h8v8h-8zM1160 264h8v8h-8zM40 272h8v8h-8zM48 272h8v8h-8zM424 272h8v8h-8zM432 272h8v8h-8zM520 272h8v8h-8zM640 272h8v8h-8zM712 272h8v8h-8zM1160 272h8v8h-8zM32 280h8v8h-8zM40 280h8v8h-8zM432 280h8v8h-8zM520 280h8v8h-8zM640 280h8v8h-8zM712 280h8v8h-8zM1160 280h8v8h-8zM32 288h8v8h-8zM432 288h8v8h-8zM520 288h8v8h-8zM640 288h8v8h-8zM712 288h8v8h-8zM1152 288h8v8h-8zM1160 288h8v8h-8zM24 296h8v8h-8zM32 296h8v8h-8zM432 296h8v8h-8zM520 296h8v8h-8zM640 296h8v8h-8zM712 296h8v8h-8zM720 296h8v8h-8zM1152 296h8v8h-8zM24 304h8v8h-8zM32 304h8v8h-8zM424 304h8v8h-8zM432 304h8v8h-8zM504 304h16v8h-16zM520 304h8v8h-8zM640 304h8v8h-8zM720 304h8v8h-8zM728 304h8v8h-8zM1144 304h8v8h-8zM1152 304h8v8h-8zM32 312h8v8h-8zM424 312h8v8h-8zM480 312h40v8h-40zM520 312h8v8h-8zM640 312h8v8h-8zM648 312h88v8h-88zM736 312h8v8h-8zM744 312h8v8h-8zM1152 312h8v8h-8zM1160 312h8v8h-8zM32 320h8v8h-8zM40 320h8v8h-8zM416 320h8v8h-8zM448 320h48v8h-48zM520 320h8v8h-8zM640 320h8v8h-8zM688 320h8v8h-8zM696 320h56v8h-56zM752 320h8v8h-8zM760 320h8v8h-8zM1168 320h8v8h-8zM1176 320h8v8h-8zM40 328h8v8h-8zM48 328h8v8h-8zM416 328h8v8h-8zM424 328h40v8h-40zM464 328h8v8h-8zM520 328h8v8h-8zM640 328h8v8h-8zM736 328h8v8h-8zM744 328h8v8h-8zM752 328h8v8h-8zM1176 328h8v8h-8zM48 336h8v8h-8zM56 336h8v8h-8zM64 336h8v8h-8zM424 336h8v8h-8zM432 336h8v8h-8zM520 336h8v8h-8zM640 336h8v8h-8zM736 336h8v8h-8zM1184 336h8v8h-8zM56 344h8v8h-8zM64 344h8v8h-8zM72 344h8v8h-8zM432 344h8v8h-8zM440 344h8v8h-8zM520 344h8v8h-8zM640 344h8v8h-8zM728 344h8v8h-8zM736 344h8v8h-8zM1184 344h8v8h-8zM48 352h8v8h-8zM56 352h8v8h-8zM440 352h8v8h-8zM448 352h8v8h-8zM520 352h8v8h-8zM640 352h8v8h-8zM728 352h8v8h-8zM1184 352h8v8h-8zM1192 352h8v8h-8zM48 360h8v8h-8zM448 360h8v8h-8zM520 360h8v8h-8zM640 360h8v8h-8zM728 360h8v8h-8zM1184 360h8v8h-8zM1192 360h8v8h-8zM40 368h8v8h-8zM48 368h8v8h-8zM448 368h8v8h-8zM456 368h8v8h-8zM520 368h8v8h-8zM640 368h8v8h-8zM728 368h8v8h-8zM736 368h8v8h-8zM1184 368h8v8h-8zM40 376h8v8h-8zM448 376h8v8h-8zM456 376h8v8h-8zM520 376h8v8h-8zM640 376h8v8h-8zM736 376h8v8h-8zM744 376h8v8h-8zM1176 376h8v8h-8zM1184 376h8v8h-8zM40 384h8v8h-8zM48 384h8v8h-8zM448 384h8v8h-8zM520 384h8v8h-8zM640 384h8v8h-8zM744 384h8v8h-8zM752 384h8v8h-8zM1160 384h8v8h-8zM1168 384h8v8h-8zM1176 384h8v8h-8zM48 392h8v8h-8zM448 392h8v8h-8zM520 392h8v8h-8zM640 392h8v8h-8zM752 392h8v8h-8zM760 392h8v8h-8zM768 392h8v8h-8zM1128 392h8v8h-8zM1136 392h8v8h-8zM1144 392h8v8h-8zM1152 392h16v8h-16zM48 400h8v8h-8zM56 400h8v8h-8zM432 400h8v8h-8zM440 400h16v8h-16zM520 400h8v8h-8zM640 400h8v8h-8zM768 400h8v8h-8zM776 400h8v8h-8zM784 400h8v8h-8zM792 400h8v8h-8zM800 400h8v8h-8zM816 400h8v8h-8zM824 400h8v8h-8zM832 400h8v8h-8zM840 400h8v8h-8zM848 400h8v8h-8zM1096 400h8v8h-8zM1104 400h24v8h-24zM1128 400h8v8h-8zM56 408h8v8h-8zM64 408h8v8h-8zM72 408h8v8h-8zM416 408h8v8h-8zM424 408h8v8h-8zM432 408h8v8h-8zM520 408h8v8h-8zM640 408h8v8h-8zM800 408h24v8h-24zM848 408h8v8h-8zM856 408h8v8h-8zM1088 408h8v8h-8zM1096 408h8v8h-8zM72 416h8v8h-8zM80 416h8v8h-8zM88 416h8v8h-8zM136 416h8v8h-8zM144 416h8v8h-8zM376 416h8v8h-8zM384 416h8v8h-8zM392 416h8v8h-8zM400 416h8v8h-8zM408 416h8v8h-8zM416 416h8v8h-8zM520 416h8v8h-8zM640 416h8v8h-8zM856 416h8v8h-8zM864 416h8v8h-8zM872 416h8v8h-8zM1072 416h8v8h-8zM1080 416h8v8h-8zM1088 416h8v8h-8zM88 424h16v8h-16zM104 424h8v8h-8zM112 424h8v8h-8zM120 424h8v8h-8zM128 424h8v8h-8zM136 424h16v8h-16zM152 424h8v8h-8zM368 424h8v8h-8zM376 424h8v8h-8zM520 424h8v8h-8zM640 424h8v8h-8zM872 424h8v8h-8zM880 424h8v8h-8zM888 424h8v8h-8zM1056 424h8v8h-8zM1064 424h8v8h-8zM1072 424h8v8h-8zM152 432h8v8h-8zM160 432h8v8h-8zM352 432h8v8h-8zM360 432h8v8h-8zM368 432h8v8h-8zM520 432h128v8h-128zM888 432h8v8h-8zM896 432h8v8h-8zM904 432h8v8h-8zM912 432h8v8h-8zM1032 432h8v8h-8zM1040 432h8v8h-8zM1048 432h16v8h-16zM160 440h8v8h-8zM168 440h8v8h-8zM176 440h8v8h-8zM344 440h8v8h-8zM352 440h8v8h-8zM912 440h8v8h-8zM920 440h16v8h-16zM936 440h8v8h-8zM944 440h8v8h-8zM952 440h8v8h-8zM960 440h8v8h-8zM968 440h8v8h-8zM976 440h8v8h-8zM984 440h8v8h-8zM992 440h8v8h-8zM1000 440h8v8h-8zM1008 440h8v8h-8zM1016 440h16v8h-16zM160 448h8v8h-8zM176 448h8v8h-8zM184 448h8v8h-8zM192 448h8v8h-8zM320 448h8v8h-8zM328 448h8v8h-8zM336 448h8v8h-8zM344 448h8v8h-8zM920 448h8v8h-8zM160 456h8v8h-8zM192 456h8v8h-8zM200 456h8v8h-8zM208 456h8v8h-8zM216 456h8v8h-8zM224 456h8v8h-8zM288 456h8v8h-8zM296 456h8v8h-8zM304 456h8v8h-8zM312 456h8v8h-8zM320 456h8v8h-8zM920 456h8v8h-8zM160 464h8v8h-8zM224 464h32v8h-32zM256 464h24v8h-24zM280 464h16v8h-16zM920 464h8v8h-8zM160 472h8v8h-8zM920 472h8v8h-8zM160 480h8v8h-8zM920 480h8v8h-8zM160 488h8v8h-8zM920 488h8v8h-8zM160 496h8v8h-8zM256 496h8v8h-8zM264 496h8v8h-8zM272 496h184v8h-184zM456 496h8v8h-8zM464 496h8v8h-8zM920 496h8v8h-8zM1016 496h8v8h-8zM1024 496h8v8h-8zM1032 496h208v8h-208zM1240 496h4v8h-4zM160 504h8v8h-8zM256 504h8v8h-8zM464 504h8v8h-8zM920 504h8v8h-8zM1016 504h8v8h-8zM160 512h8v8h-8zM208 512h48v8h-48zM256 512h8v8h-8zM464 512h8v8h-8zM920 512h8v8h-8zM968 512h56v8h-56zM160 520h8v8h-8zM208 520h56v8h-56zM464 520h8v8h-8zM920 520h8v8h-8zM968 520h56v8h-56zM160 528h8v8h-8zM208 528h8v8h-8zM256 528h8v8h-8zM464 528h8v8h-8zM920 528h8v8h-8zM968 528h8v8h-8zM1016 528h8v8h-8zM160 536h8v8h-8zM208 536h8v8h-8zM256 536h8v8h-8zM264 536h8v8h-8zM272 536h184v8h-184zM456 536h8v8h-8zM464 536h8v8h-8zM920 536h8v8h-8zM968 536h8v8h-8zM1016 536h8v8h-8zM1024 536h8v8h-8zM1032 536h208v8h-208zM1240 536h4v8h-4zM160 544h8v8h-8zM208 544h8v8h-8zM920 544h8v8h-8zM968 544h8v8h-8zM160 552h56v8h-56zM920 552h56v8h-56zM160 560h56v8h-56zM920 560h56v8h-56zM208 568h8v8h-8zM968 568h8v8h-8zM208 576h8v8h-8zM256 576h8v8h-8zM264 576h8v8h-8zM272 576h184v8h-184zM456 576h8v8h-8zM464 576h8v8h-8zM968 576h8v8h-8zM1016 576h8v8h-8zM1024 576h8v8h-8zM1032 576h208v8h-208zM1240 576h4v8h-4zM208 584h8v8h-8zM256 584h8v8h-8zM464 584h8v8h-8zM968 584h8v8h-8zM1016 584h8v8h-8zM208 592h56v8h-56zM464 592h8v8h-8zM968 592h56v8h-56zM208 600h56v8h-56zM464 600h8v8h-8zM968 600h56v8h-56zM256 608h8v8h-8zM464 608h8v8h-8zM1016 608h8v8h-8zM256 616h8v4h-8zM464 616h8v4h-8zM1016 616h8v4h-8z"/><clipPath id="artclip"><use href="#artp"/></clipPath></defs>
<g id="bleed" clip-path="url(#artclip)" style="mix-blend-mode:color" opacity="0.9">

<g fill="none" stroke="#82b366" stroke-width="7.2" stroke-miterlimit="10">
<path d="M219.2 96.4 L238.4 209.5"/>
<path d="M420 338.5 L523 310.4"/>
<path d="M163.2 430 L163.2 559 L213 559"/>
<path d="M263 519.3 L213 519.3 L213 599 L263 599"/>
</g>
<g fill="none" stroke="#b85450" stroke-width="7.2" stroke-miterlimit="10">
<path d="M845.2 96.3 L836.2 208"/>
<path d="M643 314.5 L762 323"/>
<path d="M924 440 L924 559 L973 559"/>
<path d="M1023 519 L973 519 L973 599 L1023 599"/>
</g>
<path fill="none" stroke="#82b366" stroke-width="7.2" stroke-miterlimit="10"
 d="M120.65 253.75 C26.77 253.75 3.30 329.00 78.40 344.05 C3.30 377.16 87.79 449.40 148.81 419.30 C191.06 479.50 331.88 479.50 378.82 419.30 C472.70 419.30 472.70 359.10 414.02 329.00 C472.70 268.80 378.82 208.60 296.68 238.70 C238.00 193.55 144.12 193.55 120.65 253.75 Z"/>
<path fill="none" stroke="#b85450" stroke-width="7.2" stroke-miterlimit="10"
 d="M815.00 233.75 C709.40 233.75 683.00 309.00 767.48 324.05 C683.00 357.16 778.04 429.40 846.68 399.30 C894.20 459.50 1052.60 459.50 1105.40 399.30 C1211.00 399.30 1211.00 339.10 1145.00 309.00 C1211.00 248.80 1105.40 188.60 1013.00 218.70 C947.00 173.55 841.40 173.55 815.00 233.75 Z"/>
<g fill="none" stroke="#82b366" stroke-width="7.2">
<rect x="263" y="499" width="200" height="40"/>
<rect x="263" y="579" width="200" height="40"/>
</g>
<g fill="none" stroke="#b85450" stroke-width="7.2">
<rect x="1023" y="499" width="220" height="40"/>
<rect x="1023" y="579" width="220" height="40"/>
</g>
<g stroke="#82b366" stroke-width="5.5" fill="none">
<path d="M188.6 2 H229.4 A5.5 5.5 0 0 1 234.9 7.5 V90.8 A5.5 5.5 0 0 1 229.4 96.3 H188.6 A5.5 5.5 0 0 1 183.1 90.8 V7.5 A5.5 5.5 0 0 1 188.6 2 Z M189.4 14.6 V75.2 H229.1 V14.6 Z"/>
<rect x="204.3" y="82.4" width="10.4" height="6" rx="1.5"/>
</g>
<g stroke="#b85450" stroke-width="5.5" fill="none">
<path d="M828.6 2 H869.4 A5.5 5.5 0 0 1 874.9 7.5 V90.8 A5.5 5.5 0 0 1 869.4 96.3 H828.6 A5.5 5.5 0 0 1 823.1 90.8 V7.5 A5.5 5.5 0 0 1 828.6 2 Z M829.4 14.6 V75.2 H869.1 V14.6 Z"/>
<rect x="844.3" y="82.4" width="10.4" height="6" rx="1.5"/>
</g>
<rect x="523.4" y="258.8" width="119.9" height="180.9" fill="none" stroke="#6c8ebf" stroke-width="3"/>
</g><!--/bleed-->

<!-- connectors green -->
<g fill="none" stroke="#82b366" stroke-width="4" stroke-miterlimit="10">
<path d="M219.2 96.4 L238.4 209.5"/>
<path d="M420 338.5 L523 310.4"/>
<path d="M163.2 430 L163.2 559 L213 559"/>
<path d="M263 519.3 L213 519.3 L213 599 L263 599"/>
</g>
<!-- connectors red -->
<g fill="none" stroke="#b85450" stroke-width="4" stroke-miterlimit="10">
<path d="M845.2 96.3 L836.2 208"/>
<path d="M643 314.5 L762 323"/>
<path d="M924 440 L924 559 L973 559"/>
<path d="M1023 519 L973 519 L973 599 L1023 599"/>
</g>

<!-- green cloud  box 8,180,464,300 -->
<path id="gcloud" fill="#d5e8d4" stroke="#82b366" stroke-width="4" stroke-miterlimit="10"
 d="M120.65 253.75 C26.77 253.75 3.30 329.00 78.40 344.05 C3.30 377.16 87.79 449.40 148.81 419.30 C191.06 479.50 331.88 479.50 378.82 419.30 C472.70 419.30 472.70 359.10 414.02 329.00 C472.70 268.80 378.82 208.60 296.68 238.70 C238.00 193.55 144.12 193.55 120.65 253.75 Z"/>
<!-- red cloud box 680.5,155,528,303 -->
<path id="rcloud" fill="#f8cecc" stroke="#b85450" stroke-width="4" stroke-miterlimit="10"
 d="M815.00 233.75 C709.40 233.75 683.00 309.00 767.48 324.05 C683.00 357.16 778.04 429.40 846.68 399.30 C894.20 459.50 1052.60 459.50 1105.40 399.30 C1211.00 399.30 1211.00 339.10 1145.00 309.00 C1211.00 248.80 1105.40 188.60 1013.00 218.70 C947.00 173.55 841.40 173.55 815.00 233.75 Z"/>

<!-- device boxes -->
<g fill="#d5e8d4" stroke="#82b366" stroke-width="4">
<rect x="263" y="499" width="200" height="40"/>
<rect x="263" y="579" width="200" height="40"/>
</g>
<g fill="#f8cecc" stroke="#b85450" stroke-width="4">
<rect x="1023" y="499" width="220" height="40"/>
<rect x="1023" y="579" width="220" height="40"/>
</g>

<!-- labels -->
<rect x="232" y="16" width="128" height="64" fill="#fff"/>
<rect x="912" y="16" width="128" height="64" fill="#fff"/>
<rect x="248.3" y="16" width="31.7" height="2.8" fill="#c6c6c6"/>
<rect x="295.5" y="16.8" width="16.3" height="2" fill="#d9d9d9"/>
<rect x="960.3" y="16" width="7.6" height="2.8" fill="#a8a8a8"/>
<rect x="999" y="16.8" width="8.5" height="2" fill="#dcdcdc"/>
<rect x="1033.2" y="24" width="6.8" height="16" fill="#1c1c1c"/>
<rect x="1033.2" y="40" width="6.8" height="7.8" fill="#808080"/>
<clipPath id="c1"><rect x="232" y="16" width="128" height="64"/></clipPath>
<clipPath id="c2"><rect x="912" y="16" width="128" height="64"/></clipPath>
<g clip-path="url(#c1)" font-size="30" text-anchor="middle">
<text x="294" y="41.7" transform="matrix(1 0 0 1.04 0 -1.67)">Matter</text>
<text x="294.5" y="77.9" transform="matrix(1 0 0 1.04 0 -3.12)">APP</text>
</g>
<g clip-path="url(#c2)" font-size="30" text-anchor="middle">
<text x="969" y="41.7" transform="matrix(1 0 0 1.04 0 -1.67)">Manufacture</text>
<text x="973" y="77.9" transform="matrix(1 0 0 1.04 0 -3.12)">APP</text>
</g>

<!-- phones -->
<g stroke="#82b366" stroke-width="2.3" fill="#d5e8d4">
<rect x="184.7" y="0" width="48.6" height="2" fill="#b5e88d" stroke="none"/>
<path fill-rule="evenodd" d="M188.6 2 H229.4 A5.5 5.5 0 0 1 234.9 7.5 V90.8 A5.5 5.5 0 0 1 229.4 96.3 H188.6 A5.5 5.5 0 0 1 183.1 90.8 V7.5 A5.5 5.5 0 0 1 188.6 2 Z M189.4 14.6 V75.2 H229.1 V14.6 Z"/>
<rect x="204.3" y="82.4" width="10.4" height="6" rx="1.5"/>
</g>
<g stroke="#b85450" stroke-width="2.3" fill="#f8cecc">
<rect x="824.7" y="0" width="48.6" height="2" fill="#ff9a90" stroke="none"/>
<path fill-rule="evenodd" d="M828.6 2 H869.4 A5.5 5.5 0 0 1 874.9 7.5 V90.8 A5.5 5.5 0 0 1 869.4 96.3 H828.6 A5.5 5.5 0 0 1 823.1 90.8 V7.5 A5.5 5.5 0 0 1 828.6 2 Z M829.4 14.6 V75.2 H869.1 V14.6 Z"/>
<rect x="844.3" y="82.4" width="10.4" height="6" rx="1.5"/>
</g>

<!-- bridge -->
<rect x="523.4" y="258.8" width="119.9" height="180.9" fill="#6c8ebf"/>
<rect x="525.2" y="260.7" width="116.3" height="115.9" fill="#dae8fc"/>
<g fill="none" stroke="#6c8ebf" stroke-width="2.5" stroke-linejoin="miter">
<path d="M544.5 291 L565.7 280.5 V357.5 L544.5 350 Z"/>
<path d="M621.6 291 L600.2 280.5 V357.5 L621.6 350 Z"/>
<path d="M567.4 299.5 H600" stroke-dasharray="4.6 2.66"/>
<path d="M567.4 339.3 H600" stroke-dasharray="4.6 2.66"/>
<path d="M576.1 312.5 L569.8 318.3 L576.1 324.1"/>
<path d="M590.6 312.5 L596.9 318.3 L590.6 324.1"/>
<path d="M585.5 310.3 L579.4 328.5"/>
</g>
<text x="582.6" y="421" transform="matrix(1 0 0 0.975 0 10.53)" font-size="32" font-weight="bold" text-anchor="middle" style="fill:#fff;stroke:none">Bridge</text>

<!-- cloud text -->
<g font-size="30" text-anchor="middle">
<text x="237.6" y="339.7" transform="matrix(1 0 0 1.04 0 -13.59)">Matter Fabric</text>
<text x="946" y="284.0" transform="matrix(1 0 0 1.04 0 -11.36)">Non-Matter Network</text>
<text x="945.5" y="320.0" transform="matrix(1 0 0 1.04 0 -12.80)">(e.g., Zigbee, BLE Mesh,</text>
<text x="945.5" y="356.0" transform="matrix(1 0 0 1.04 0 -14.24)">Z-Wave, etc.)</text>
</g>
<g font-size="23.7" text-anchor="middle">
<text x="361.3" y="527.5" transform="matrix(1 0 0 1.04 0 -21.10)">Matter Device 1</text>
<text x="361.8" y="607.2" transform="matrix(1 0 0 1.04 0 -24.29)">Matter Device 2</text>
<text x="1131" y="527.5" transform="matrix(1 0 0 1.04 0 -21.10)">Bridged Device 1</text>
<text x="1131.5" y="607.2" transform="matrix(1 0 0 1.04 0 -24.29)">Bridged Device 2</text>
</g>
</svg>
</body>
</html>
